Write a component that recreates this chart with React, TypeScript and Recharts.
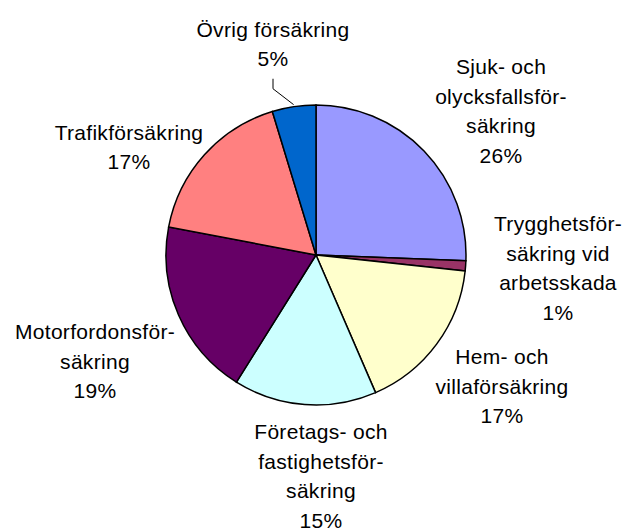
import { Cell, Pie, PieChart } from "recharts";

// kategorier (radbrytningar som i originalet)
const categories = [
  "Sjuk- och\nolycksfallsför-\nsäkring",
  "Trygghetsför-\nsäkring vid\narbetsskada",
  "Hem- och\nvillaförsäkring",
  "Företags- och\nfastighetsför-\nsäkring",
  "Motorfordonsför-\nsäkring",
  "Trafikförsäkring",
  "Övrig försäkring",
];

// andel i procent
const shares = [25.6, 1.1, 16.8, 15.4, 19.1, 17.3, 4.7];

const colors = ["#9999FF", "#993366", "#FFFFCC", "#CCFFFF", "#660066", "#FF8080", "#0066CC"];

// etikettblockens mitt relativt tårtans centrum
const labelOffsets: [number, number][] = [
  [185, -144],
  [242, 13],
  [186, 131],
  [5, 221],
  [-221, 106],
  [-187, -108],
  [-43, -211],
];

const data = categories.map((name, i) => ({ name, value: shares[i] }));

const FONT = 21;
const LINE_H = 29.5;
const RAD = Math.PI / 180;

function renderLabel(props: any) {
  const { cx, cy, midAngle, outerRadius, percent, index } = props;
  const lines = [...categories[index].split("\n"), `${Math.round(percent * 100)}%`];
  const [dx, dy] = labelOffsets[index];
  const x = cx + dx;
  const firstY = cy + dy - ((lines.length - 1) / 2) * LINE_H;
  let leader = null;
  if (index === 6) {
    const ex = cx + (outerRadius + 2) * Math.cos(-midAngle * RAD);
    const ey = cy + (outerRadius + 2) * Math.sin(-midAngle * RAD);
    const sy = firstY + (lines.length - 1) * LINE_H + 20;
    leader = (
      <polyline
        points={`${x},${sy} ${x},${sy + 10} ${ex},${ey}`}
        fill="none"
        stroke="#000"
        strokeWidth={1}
      />
    );
  }
  return (
    <g key={`lbl-${index}`}>
      {leader}
      <text
        x={x}
        y={firstY}
        textAnchor="middle"
        fontFamily="'Liberation Sans', Arial, sans-serif"
        fontSize={FONT}
        letterSpacing={0.3}
        fill="#000"
      >
        {lines.map((l, i) => (
          <tspan key={i} x={x} y={firstY + i * LINE_H + FONT * 0.36}>
            {l}
          </tspan>
        ))}
      </text>
    </g>
  );
}

export default function App() {
  return (
    <div style={{ position: "absolute", left: 0, top: 0, background: "#fff" }}>
      <PieChart width={625} height={528} margin={{ top: 0, right: 0, bottom: 0, left: 0 }}>
        <Pie
          data={data}
          dataKey="value"
          nameKey="name"
          cx={316}
          cy={255}
          outerRadius={150}
          startAngle={90}
          endAngle={-270}
          stroke="#000"
          strokeWidth={1.5}
          label={renderLabel}
          labelLine={false}
          isAnimationActive={false}
        >
          {data.map((_, i) => (
            <Cell key={i} fill={colors[i]} />
          ))}
        </Pie>
      </PieChart>
    </div>
  );
}
